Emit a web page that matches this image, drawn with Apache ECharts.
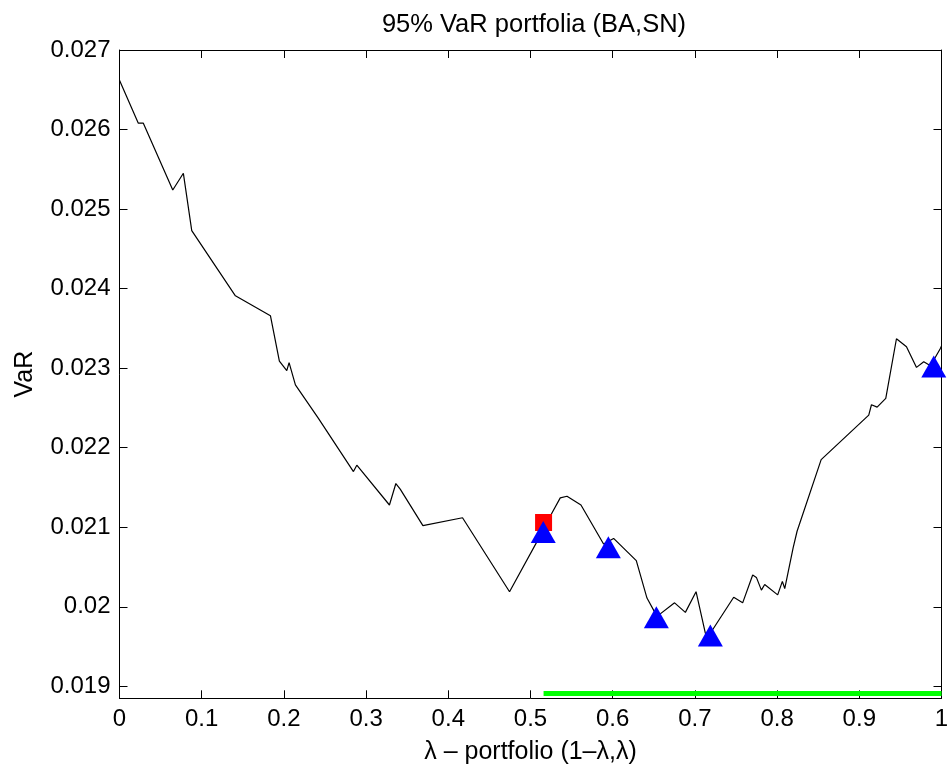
<!DOCTYPE html>
<html>
<head>
<meta charset="utf-8">
<script src="https://cdn.jsdelivr.net/npm/echarts@6/dist/echarts.min.js"></script>
<style>
  html, body { margin: 0; padding: 0; background: #fff; }
  #chart { width: 947px; height: 766px; }
</style>
</head>
<body>
<div id="chart"></div>
<script>
// VaR curve
const lambdaVals = [0, 0.0229, 0.029, 0.0648, 0.0777, 0.0879, 0.141, 0.1836, 0.1945, 0.2035,
  0.2063, 0.214, 0.242, 0.2846, 0.2887, 0.3284, 0.3362, 0.3415, 0.3691, 0.4173,
  0.4745, 0.5159, 0.5261, 0.5362, 0.5444, 0.5614, 0.5889, 0.6011, 0.6287, 0.6417,
  0.6539, 0.6753, 0.6884, 0.7014, 0.7127, 0.7164, 0.7472, 0.7581, 0.7703, 0.7748,
  0.7809, 0.7849, 0.8007, 0.8064, 0.8093, 0.8195, 0.8243, 0.8536, 0.9115, 0.9148,
  0.9217, 0.9322, 0.9452, 0.9574, 0.9696, 0.9784, 0.9866, 0.9988, 1];
const varVals = [0.02662, 0.02608, 0.02608, 0.02524, 0.02545, 0.02473, 0.02391, 0.02366, 0.02309, 0.02297,
  0.02307, 0.02279, 0.02237, 0.0217, 0.02178, 0.02128, 0.02155, 0.02148, 0.02102, 0.02112,
  0.02019, 0.02097, 0.02118, 0.02137, 0.02139, 0.02128, 0.02079, 0.02086, 0.02058, 0.02011,
  0.01988, 0.02005, 0.01993, 0.02019, 0.01967, 0.01963, 0.02012, 0.02005, 0.0204, 0.02037,
  0.02021, 0.02028, 0.02015, 0.02032, 0.02023, 0.02074, 0.02095, 0.02185, 0.02241, 0.02254,
  0.02251, 0.02262, 0.02337, 0.02327, 0.02301, 0.02308, 0.02303, 0.02325, 0.02328];

// red square marker
const minX = [0.5159];
const minY = [0.02106];

// blue triangles
const triX = [0.5155, 0.5947, 0.6531, 0.7188, 0.9906];
const triY = [0.02094, 0.02075, 0.01987, 0.01964, 0.02302];

// green band along the bottom
const bandX = [0.5159, 1];
const bandY = [0.01891, 0.01891];

const yTicks = [0.019, 0.02, 0.021, 0.022, 0.023, 0.024, 0.025, 0.026, 0.027];

function zip(a, b) { return a.map((v, i) => [v, b[i]]); }

const chart = echarts.init(document.getElementById('chart'));
const font = 'Liberation Sans, Arial, Helvetica, sans-serif';

const axisBase = {
  axisLine: { show: true, onZero: false, lineStyle: { color: '#000', width: 1 } },
  axisTick: { show: true, inside: true, length: 8, lineStyle: { color: '#000' } },
  splitLine: { show: false }
};

const option = {
  animation: false,
  backgroundColor: '#fff',
  title: {
    text: '95% VaR portfolia (BA,SN)',
    left: 529,
    top: 7,
    textAlign: 'center',
    textStyle: { fontFamily: font, fontSize: 25.5, fontWeight: 'normal', color: '#000' }
  },
  // keep the plot box where it is in the picture, labels may sit outside
  grid: { left: 119.5, right: 5.5, top: 50, bottom: 67.7, outerBoundsMode: 'none', containLabel: false },
  xAxis: [
    Object.assign({}, axisBase, {
      type: 'value', min: 0, max: 1, interval: 0.1, position: 'bottom',
      name: 'λ – portfolio (1–λ,λ)', nameLocation: 'middle', nameGap: 41,
      nameTextStyle: { fontFamily: font, fontSize: 25, color: '#000' },
      axisLabel: { fontFamily: font, fontSize: 24, color: '#000', margin: 9 }
    }),
    Object.assign({}, axisBase, {
      type: 'value', min: 0, max: 1, interval: 0.1, position: 'top',
      axisLabel: { show: false }
    })
  ],
  yAxis: [
    Object.assign({}, axisBase, {
      type: 'value', min: 0.01885, max: 0.027, position: 'left',
      name: 'VaR', nameLocation: 'middle', nameGap: 82, nameRotate: 90,
      nameTextStyle: { fontFamily: font, fontSize: 25, color: '#000' },
      axisTick: { show: true, inside: true, length: 8, lineStyle: { color: '#000' }, customValues: yTicks },
      axisLabel: { fontFamily: font, fontSize: 24, color: '#000', margin: 9, customValues: yTicks }
    }),
    Object.assign({}, axisBase, {
      type: 'value', min: 0.01885, max: 0.027, position: 'right',
      axisTick: { show: true, inside: true, length: 8, lineStyle: { color: '#000' }, customValues: yTicks },
      axisLabel: { show: false, customValues: yTicks }
    })
  ],
  series: [
    {
      type: 'line',
      data: zip(lambdaVals, varVals),
      showSymbol: false,
      lineStyle: { color: '#000', width: 1.2 },
      z: 2
    },
    {
      type: 'line',
      data: zip(bandX, bandY),
      showSymbol: false,
      lineStyle: { color: '#00ff00', width: 5 },
      z: 5
    },
    {
      type: 'scatter',
      data: zip(minX, minY),
      symbol: 'rect',
      symbolSize: 17,
      itemStyle: { color: '#ff0000', opacity: 1 },
      z: 3
    },
    {
      type: 'scatter',
      data: zip(triX, triY),
      symbol: 'triangle',
      symbolSize: [25, 22],
      itemStyle: { color: '#0000ff', opacity: 1 },
      z: 4
    }
  ]
};

chart.setOption(option);
</script>
</body>
</html>
